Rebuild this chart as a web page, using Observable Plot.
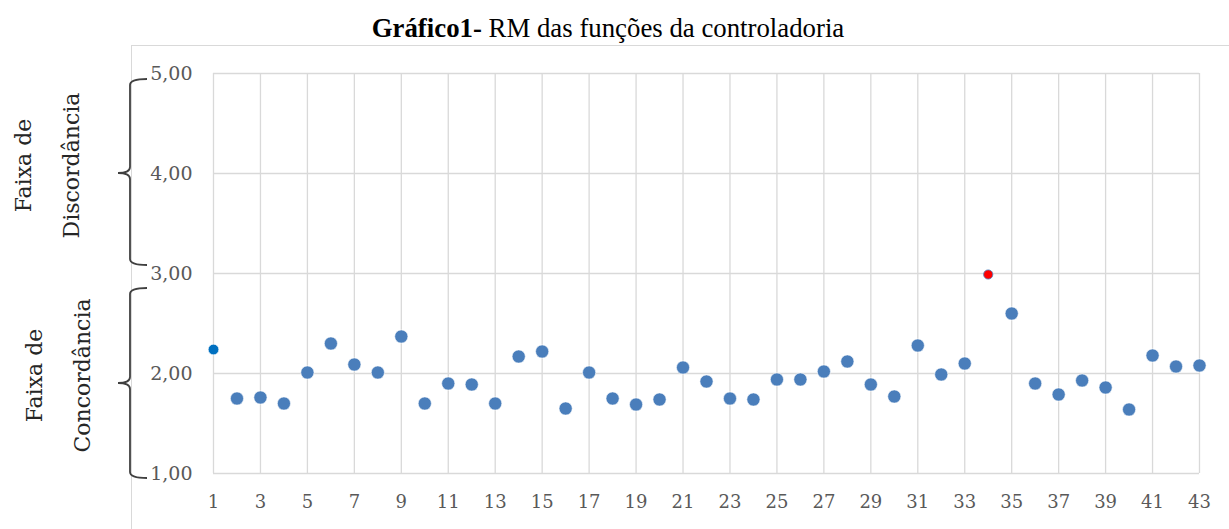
<!DOCTYPE html>
<html>
<head>
<meta charset="utf-8">
<script src="https://cdn.jsdelivr.net/npm/d3@7"></script>
<script src="https://cdn.jsdelivr.net/npm/@observablehq/plot@0.6"></script>
<style>
  html, body { margin: 0; padding: 0; background: #fff; }
  #wrap { position: relative; width: 1229px; height: 529px; overflow: hidden; }
  #frame { position: absolute; left: 131px; top: 45px; width: 1200px; height: 600px;
           border-top: 1px solid #d9d9d9; border-left: 1px solid #d9d9d9; }
  #chart { position: absolute; left: 0; top: 0; }
  #title { position: absolute; left: 0; top: 13px; width: 1216px; text-align: center;
           font-family: "Liberation Serif", "Times New Roman", serif; font-size: 26.8px;
           line-height: 30px; color: #000; white-space: nowrap; }
</style>
</head>
<body>
<div id="wrap">
  <div id="frame"></div>
  <div id="chart"></div>
  <div id="title"><b>Gráfico1-</b> RM das funções da controladoria</div>
</div>
<script>
// ---- data ----
const items = [1,2,3,4,5,6,7,8,9,10,11,12,13,14,15,16,17,18,19,20,21,22,23,24,25,26,27,28,29,30,31,32,33,34,35,36,37,38,39,40,41,42,43];
const rm = [2.24,1.75,1.76,1.70,2.01,2.30,2.09,2.01,2.37,1.70,
            1.90,1.89,1.70,2.17,2.22,1.65,2.01,1.75,1.69,1.74,
            2.06,1.92,1.75,1.74,1.94,1.94,2.02,2.12,1.89,1.77,
            2.28,1.99,2.10,2.99,2.60,1.90,1.79,1.93,1.86,1.64,
            2.18,2.07,2.08];
const xTicks = [1,3,5,7,9,11,13,15,17,19,21,23,25,27,29,31,33,35,37,39,41,43];
const yTicks = [1,2,3,4,5];
const bandFrom = [4.94, 2.85];
const bandTo = [3.08, 0.95];
const bandMid = [4.0, 1.9];
const bandText = ["Faixa de\nDiscordância", "Faixa de\nConcordância"];
const bandTextY = [4.08, 1.98];

const data = items.map((item, i) => ({item, value: rm[i]}));
const bands = bandFrom.map((f, i) => ({from: f, to: bandTo[i], mid: bandMid[i], text: bandText[i], ty: bandTextY[i]}));

const BLUE = "#4a7ebb";
function dotFill(d) {
  if (d.item === 1) return "#0070c0";
  if (d.item === 34) return "#ff0000";
  return BLUE;
}
function dotR(d) { return d.item === 1 ? 5.3 : d.item === 34 ? 4.6 : 6.6; }

function braceMark(index, scales, values, dimensions) {
  const g = d3.create("svg:g").attr("fill", "none").attr("stroke", "#404040").attr("stroke-width", 1.8);
  const ml = dimensions.marginLeft;
  const xv = ml - 83, xe = ml - 66, xm = ml - 95, r = 6;
  for (const b of bands) {
    const y0 = scales.y(b.from), y1 = scales.y(b.to), ym = scales.y(b.mid);
    g.append("path").attr("d",
      `M${xe},${y0} Q${xv},${y0} ${xv},${y0 + r} L${xv},${ym - r} Q${xv},${ym} ${xm},${ym} ` +
      `Q${xv},${ym} ${xv},${ym + r} L${xv},${y1 - r} Q${xv},${y1} ${xe},${y1}`);
  }
  return g.node();
}

const plot = Plot.plot({
  width: 1229,
  height: 529,
  marginLeft: 213,
  marginRight: 30,
  marginTop: 73,
  marginBottom: 56,
  style: {background: "transparent", fontFamily: "'DejaVu Serif', serif", fontSize: "19px", color: "#595959", overflow: "visible"},
  x: {domain: [1, 43]},
  y: {domain: [1, 5]},
  r: {type: "identity"},
  marks: [
    Plot.ruleY(yTicks, {stroke: "#d9d9d9", strokeWidth: 1.3, strokeOpacity: 1}),
    Plot.ruleX(xTicks, {stroke: "#d9d9d9", strokeWidth: 1.3, strokeOpacity: 1}),
    Plot.axisY({ticks: yTicks, tickSize: 0, tickPadding: 21, label: null, fontSize: 19,
                tickFormat: d => d.toFixed(2).replace(".", ",")}),
    Plot.axisX({ticks: xTicks, tickSize: 0, tickPadding: 22, label: null, fontSize: 18,
                tickFormat: d => String(d)}),
    braceMark,
    Plot.text(bands.slice(0, 1), {y: "ty", text: "text", frameAnchor: "left", dx: -174, rotate: -90,
      lineHeight: 2.2, fontSize: 22, fill: "#262626", textAnchor: "middle"}),
    Plot.text(bands.slice(1, 2), {y: "ty", text: "text", frameAnchor: "left", dx: -163, rotate: -90,
      lineHeight: 2.2, fontSize: 22, fill: "#262626", textAnchor: "middle"}),
    Plot.dot(data, {x: "item", y: "value", r: dotR, fill: dotFill, stroke: d => d.item === 34 ? BLUE : "white",
      strokeWidth: d => d.item === 34 ? 0.8 : 0.6})
  ]
});
document.getElementById("chart").appendChild(plot);
</script>
</body>
</html>
